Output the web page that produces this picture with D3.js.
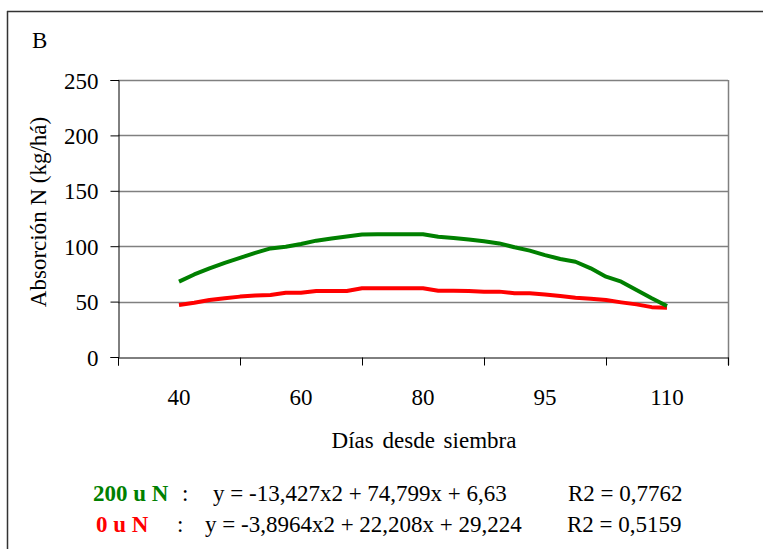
<!DOCTYPE html>
<html><head><meta charset="utf-8">
<script src="https://cdn.jsdelivr.net/npm/d3@7"></script>
<style>
html,body{margin:0;padding:0;background:#fff;}
svg{display:block;}
text{font-family:"Liberation Serif","Times New Roman",serif;fill:#000;}
</style></head>
<body>
<script>
// Category axis (days after sowing)
const categories = ["40", "60", "80", "95", "110"];
// Y ticks
const yTicks = [0, 50, 100, 150, 200, 250];
// Curve sampling positions (in category-index units, 1 = "40", 5 = "110")
const xPos = [1.0,1.125,1.25,1.375,1.5,1.625,1.75,1.875,2.0,2.125,2.25,2.375,2.5,2.625,2.75,2.875,3.0,
              3.125,3.25,3.375,3.5,3.625,3.75,3.875,4.0,4.125,4.25,4.375,4.5,4.625,4.75,4.875,5.0];
// 200 u N (green)
const series200 = [68,74.5,80,85,89.5,94,98,99.5,102,105,107,108.7,110.5,110.7,110.7,110.7,110.7,
                   108.6,107.5,106,104.5,102.5,99,96,92,88.5,86,80,72.5,68,60.5,53,46];
// 0 u N (red)
const series0 = [47,49,51.5,53,54.5,55.5,56,58,58,59.6,59.6,59.6,62,62,62,62,62,
                 59.8,59.8,59.5,59,59,57.5,57.5,56.5,55,53.5,52.5,51.4,49.3,47.5,45,44.5];

const W = 763, H = 549, FS = 23;
const svg = d3.select("body").append("svg").attr("width", W).attr("height", H);

// outer frame (top + left visible)
svg.append("line").attr("x1",7).attr("x2",W).attr("y1",11.5).attr("y2",11.5).attr("stroke","#333").attr("stroke-width",1.5);
svg.append("line").attr("x1",7.5).attr("x2",7.5).attr("y1",11).attr("y2",H).attr("stroke","#333").attr("stroke-width",1.5);

svg.append("text").attr("x",32).attr("y",48).attr("font-size",FS).text("B");

const L = 118, R = 728, T = 80, B = 357;
const x = d3.scaleLinear().domain([0.5, 5.5]).range([L, R]);
const y = d3.scaleLinear().domain([0, 250]).range([B, T]);

// gridlines
svg.append("g").selectAll("line").data(yTicks.filter(d=>d>0)).join("line")
  .attr("x1",L).attr("x2",R).attr("y1",d=>Math.round(y(d))+0.5).attr("y2",d=>Math.round(y(d))+0.5)
  .attr("stroke","#808080").attr("stroke-width",1.5);
// right border
svg.append("line").attr("x1",R+0.5).attr("x2",R+0.5).attr("y1",T).attr("y2",B+8).attr("stroke","#808080").attr("stroke-width",1.5);

// y axis
const yAxis = d3.axisLeft(y).tickValues(yTicks).tickSize(8).tickPadding(12).tickFormat(d3.format("d"));
const gy = svg.append("g").attr("transform",`translate(${L+0.5},0)`).call(yAxis);
gy.select(".domain").attr("stroke","#000");
gy.selectAll(".tick line").attr("stroke","#000");
gy.selectAll("text").attr("font-size",FS).attr("font-family","Liberation Serif").attr("dy","0.35em");

// x axis (category boundaries as ticks)
const bounds = [0.5,1.5,2.5,3.5,4.5,5.5];
const xAxis = d3.axisBottom(x).tickValues(bounds).tickSize(8).tickFormat("");
const gx = svg.append("g").attr("transform",`translate(0,${B+0.5})`).call(xAxis);
gx.select(".domain").attr("stroke","#000");
gx.selectAll(".tick line").attr("stroke","#000");
svg.append("g").selectAll("text").data(categories).join("text")
  .attr("x",(d,i)=>x(i+1)).attr("y",405).attr("text-anchor","middle").attr("font-size",FS).text(d=>d);

// axis titles
svg.append("text").attr("x",424).attr("y",448).attr("text-anchor","middle").attr("font-size",FS)
  .attr("word-spacing",3).text("Días desde siembra");
svg.append("text").attr("transform","translate(46,212) rotate(-90)").attr("text-anchor","middle").attr("font-size",FS).text("Absorción N (kg/há)");

// lines
const line = d3.line().x(d=>x(d[0])).y(d=>y(d[1]));
svg.append("path").datum(xPos.map((v,i)=>[v,series0[i]])).attr("d",line)
  .attr("fill","none").attr("stroke","#ff0000").attr("stroke-width",4).attr("stroke-linejoin","round");
svg.append("path").datum(xPos.map((v,i)=>[v,series200[i]])).attr("d",line)
  .attr("fill","none").attr("stroke","#008000").attr("stroke-width",4).attr("stroke-linejoin","round");

// legend / equations
const l1 = svg.append("text").attr("y",501).attr("font-size",FS);
l1.append("tspan").attr("x",93).attr("font-weight","bold").style("fill","#008000").text("200 u N");
l1.append("tspan").attr("x",182).text(":");
l1.append("tspan").attr("x",213).text("y = -13,427x2 + 74,799x + 6,63");
l1.append("tspan").attr("x",568).text("R2 = 0,7762");
const l2 = svg.append("text").attr("y",532).attr("font-size",FS);
l2.append("tspan").attr("x",96).attr("font-weight","bold").style("fill","#ff0000").text("0 u N");
l2.append("tspan").attr("x",177).text(":");
l2.append("tspan").attr("x",205).text("y = -3,8964x2 + 22,208x + 29,224");
l2.append("tspan").attr("x",567).text("R2 = 0,5159");
</script>
</body></html>
